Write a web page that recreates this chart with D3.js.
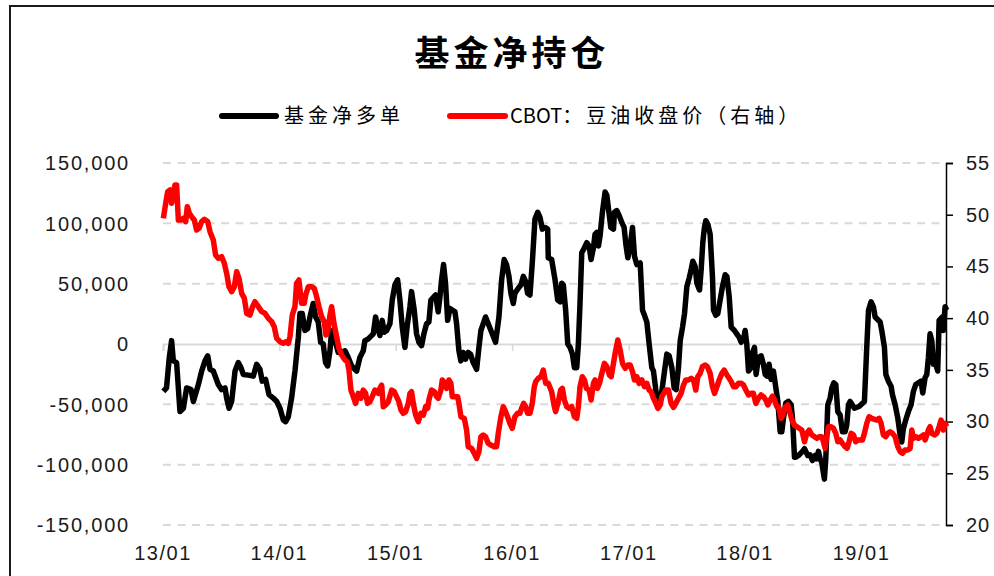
<!DOCTYPE html>
<html>
<head>
<meta charset="utf-8">
<script src="https://cdn.jsdelivr.net/npm/d3@7"></script>
<style>
  body { margin: 0; background: #fff; }
  svg { display: block; }
</style>
</head>
<body>
<svg id="chart"></svg>
<script>
// weekly series: [decimal year, value]
const fundNetLong = [
  [2013.003,-39200],[2013.03,-36400],[2013.054,-11200],[2013.074,2800],[2013.089,-14000],[2013.117,-15400],[2013.146,-56000],[2013.175,-53200],[2013.203,-36400],[2013.241,-37800],[2013.261,-47600],[2013.304,-33600],[2013.332,-22400],[2013.361,-14000],[2013.384,-9800],[2013.404,-21000],[2013.432,-22400],[2013.475,-33600],[2013.504,-37800],[2013.533,-36400],[2013.547,-44800],[2013.567,-53200],[2013.59,-47600],[2013.619,-22400],[2013.647,-15400],[2013.67,-19600],[2013.69,-25200],[2013.733,-25800],[2013.776,-26600],[2013.805,-16800],[2013.833,-21000],[2013.853,-30800],[2013.882,-29400],[2013.911,-42000],[2013.948,-44800],[2013.977,-47600],
  [2014.005,-53200],[2014.034,-63000],[2014.054,-64400],[2014.077,-60200],[2014.105,-44800],[2014.134,-22400],[2014.163,5600],[2014.177,25200],[2014.197,25200],[2014.22,11200],[2014.243,12600],[2014.263,22400],[2014.291,33600],[2014.312,22400],[2014.334,18200],[2014.355,1400],[2014.377,0],[2014.397,-15400],[2014.415,-18200],[2014.435,-5600],[2014.449,11200],[2014.478,2800],[2014.506,-7000],[2014.535,-7000],[2014.564,-5600],[2014.592,-11200],[2014.621,-18200],[2014.664,-22400],[2014.692,-11200],[2014.721,-5600],[2014.735,2800],[2014.764,4200],[2014.807,8400],[2014.827,22400],[2014.844,14000],[2014.864,7000],[2014.884,19600],[2014.901,9800],[2014.922,11200],[2014.95,16800],[2014.97,36400],[2014.993,49000],
  [2015.016,53200],[2015.036,36400],[2015.056,14000],[2015.079,-2800],[2015.099,15400],[2015.122,30800],[2015.136,43400],[2015.159,28000],[2015.179,8400],[2015.199,1400],[2015.222,-1400],[2015.242,8400],[2015.265,16800],[2015.285,18200],[2015.302,36400],[2015.343,40600],[2015.365,26600],[2015.38,39200],[2015.394,53200],[2015.411,65800],[2015.428,50400],[2015.446,19600],[2015.466,29400],[2015.509,26600],[2015.523,16800],[2015.543,-5600],[2015.56,-14000],[2015.58,-7000],[2015.6,-12600],[2015.623,-7000],[2015.643,-8400],[2015.666,-15400],[2015.695,-21000],[2015.715,-2800],[2015.732,11200],[2015.772,22400],[2015.795,16800],[2015.824,9800],[2015.858,1400],[2015.887,22400],[2015.91,53200],[2015.932,70000],[2015.952,65800],[2015.973,56000],[2015.99,42000],
  [2016.01,33600],[2016.024,42000],[2016.053,46200],[2016.076,49000],[2016.096,56000],[2016.116,51800],[2016.133,42000],[2016.153,40600],[2016.173,67200],[2016.196,103600],[2016.219,109200],[2016.239,105000],[2016.259,95200],[2016.282,96600],[2016.305,95200],[2016.31,71400],[2016.339,70000],[2016.368,53200],[2016.391,36400],[2016.411,35000],[2016.425,50400],[2016.439,49000],[2016.459,28000],[2016.477,0],[2016.497,-2800],[2016.517,-8400],[2016.534,-19600],[2016.554,-19600],[2016.568,0],[2016.582,33600],[2016.597,75600],[2016.62,79800],[2016.64,84000],[2016.66,81200],[2016.677,70000],[2016.697,79800],[2016.711,91000],[2016.726,92400],[2016.74,81200],[2016.754,89600],[2016.774,109200],[2016.797,126000],[2016.812,123200],[2016.826,112000],[2016.846,96600],[2016.869,95200],[2016.877,109200],[2016.897,110600],[2016.918,106400],[2016.94,100800],[2016.96,96600],[2016.975,82600],[2016.992,71400],
  [2017.012,81200],[2017.032,96600],[2017.049,72800],[2017.069,65800],[2017.098,67200],[2017.118,28000],[2017.135,23800],[2017.155,18200],[2017.175,0],[2017.198,-19600],[2017.212,-22400],[2017.241,-44800],[2017.261,-47600],[2017.284,-39200],[2017.307,-22400],[2017.327,-8400],[2017.347,-9800],[2017.37,-19600],[2017.39,-36400],[2017.407,-37800],[2017.427,-19600],[2017.442,2800],[2017.462,14000],[2017.479,25200],[2017.499,47600],[2017.519,54600],[2017.536,61600],[2017.55,68600],[2017.57,64400],[2017.585,50400],[2017.608,44800],[2017.622,61600],[2017.636,84000],[2017.65,96600],[2017.662,102200],[2017.679,99400],[2017.699,91000],[2017.719,56000],[2017.728,28000],[2017.748,23800],[2017.765,25200],[2017.785,36400],[2017.805,47600],[2017.828,57400],[2017.843,56000],[2017.863,39200],[2017.88,14000],[2017.908,11200],[2017.928,8400],[2017.948,5600],[2017.966,1400],[2017.986,4200],
  [2018,11200],[2018.014,0],[2018.029,-22400],[2018.052,-19600],[2018.063,-7000],[2018.08,-2800],[2018.094,-25200],[2018.115,-11200],[2018.137,-9800],[2018.157,-16800],[2018.172,-25200],[2018.189,-26600],[2018.206,-16800],[2018.223,-29400],[2018.243,-22400],[2018.264,-36400],[2018.281,-47600],[2018.301,-72800],[2018.315,-72800],[2018.329,-61600],[2018.349,-49000],[2018.372,-47600],[2018.395,-50400],[2018.407,-61600],[2018.424,-93800],[2018.435,-93800],[2018.458,-92400],[2018.487,-89600],[2018.51,-86800],[2018.538,-92400],[2018.558,-91800],[2018.578,-96600],[2018.601,-92400],[2018.616,-95200],[2018.63,-89000],[2018.644,-95200],[2018.658,-98000],[2018.681,-112000],[2018.693,-95200],[2018.71,-50400],[2018.73,-44800],[2018.745,-36400],[2018.762,-32200],[2018.779,-33600],[2018.796,-56000],[2018.816,-58800],[2018.836,-72800],[2018.859,-72800],[2018.873,-67200],[2018.888,-50400],[2018.902,-47600],[2018.939,-53200],[2018.979,-51800],
  [2019.025,-47600],[2019.045,-2800],[2019.06,28000],[2019.082,35000],[2019.102,30800],[2019.117,22400],[2019.16,18200],[2019.174,11200],[2019.197,-2800],[2019.209,-25200],[2019.231,-30800],[2019.254,-35000],[2019.266,-42000],[2019.289,-50400],[2019.312,-61600],[2019.332,-75600],[2019.346,-81200],[2019.36,-70000],[2019.38,-63000],[2019.403,-56000],[2019.426,-50400],[2019.446,-39200],[2019.466,-33600],[2019.512,-30800],[2019.526,-40600],[2019.546,-28000],[2019.561,-25200],[2019.575,-11200],[2019.589,8400],[2019.604,2800],[2019.618,-16800],[2019.638,-16800],[2019.655,-22400],[2019.667,19600],[2019.695,22400],[2019.704,11200],[2019.718,30800],[2019.733,28000]
];

const soyOilClose = [
  [2013.003,49.65],[2013.023,51.1],[2013.04,52.23],[2013.06,52.39],[2013.074,51.1],[2013.089,52.07],[2013.103,52.87],[2013.117,52.87],[2013.132,49.49],[2013.155,49.49],[2013.175,49.65],[2013.195,49.33],[2013.209,50.78],[2013.226,50.13],[2013.246,49.81],[2013.269,49.49],[2013.289,48.52],[2013.309,48.68],[2013.332,49.33],[2013.355,49.55],[2013.384,49.33],[2013.404,48.36],[2013.432,47.56],[2013.452,46.1],[2013.475,45.78],[2013.504,45.94],[2013.527,45.3],[2013.547,44.33],[2013.567,43.04],[2013.59,42.56],[2013.613,43.04],[2013.633,44.49],[2013.653,43.85],[2013.676,42.4],[2013.699,41.91],[2013.719,40.47],[2013.747,40.3],[2013.77,41.11],[2013.79,41.59],[2013.819,41.11],[2013.848,40.63],[2013.876,40.47],[2013.905,39.98],[2013.934,39.66],[2013.956,39.17],[2013.977,38.05],
  [2014.005,37.72],[2014.034,37.56],[2014.054,37.72],[2014.077,37.56],[2014.091,38.21],[2014.111,40.3],[2014.134,41.11],[2014.148,43.37],[2014.168,43.69],[2014.191,41.43],[2014.214,41.43],[2014.226,42.24],[2014.249,43.04],[2014.277,43.04],[2014.3,42.88],[2014.32,42.08],[2014.34,41.11],[2014.363,40.14],[2014.386,39.66],[2014.4,38.37],[2014.415,38.69],[2014.435,40.3],[2014.449,41.11],[2014.469,39.5],[2014.492,38.21],[2014.512,37.08],[2014.535,36.43],[2014.564,35.95],[2014.584,35.79],[2014.598,34.98],[2014.615,33.05],[2014.635,32.41],[2014.655,31.76],[2014.678,32.73],[2014.701,32.25],[2014.721,33.05],[2014.741,32.73],[2014.758,31.76],[2014.778,31.92],[2014.798,32.41],[2014.821,33.05],[2014.85,32.73],[2014.864,33.21],[2014.879,33.53],[2014.893,31.44],[2014.913,31.6],[2014.936,31.92],[2014.965,33.05],[2014.987,32.89],
  [2015.007,32.41],[2015.027,31.92],[2015.045,31.12],[2015.065,30.8],[2015.085,30.96],[2015.108,31.76],[2015.122,32.73],[2015.136,32.89],[2015.151,31.76],[2015.171,30.63],[2015.194,29.99],[2015.216,30.8],[2015.237,30.63],[2015.257,31.44],[2015.274,31.28],[2015.285,32.08],[2015.308,33.05],[2015.331,32.89],[2015.351,32.41],[2015.365,32.25],[2015.388,33.05],[2015.4,34.02],[2015.423,33.7],[2015.437,33.21],[2015.457,34.02],[2015.474,33.7],[2015.486,32.41],[2015.509,32.41],[2015.532,32.41],[2015.543,31.76],[2015.56,30.47],[2015.589,30.31],[2015.609,29.18],[2015.623,27.57],[2015.652,27.41],[2015.675,26.93],[2015.695,26.44],[2015.715,27.09],[2015.732,28.54],[2015.752,28.7],[2015.772,28.54],[2015.795,27.89],[2015.818,27.73],[2015.847,27.57],[2015.867,27.57],[2015.881,28.86],[2015.904,30.47],[2015.924,31.44],[2015.938,31.12],[2015.961,30.47],[2015.981,29.83],
  [2016.001,29.35],[2016.024,30.47],[2016.047,30.8],[2016.067,30.8],[2016.081,31.28],[2016.099,31.76],[2016.116,31.44],[2016.133,30.8],[2016.153,30.8],[2016.173,31.76],[2016.19,33.37],[2016.202,33.86],[2016.224,34.18],[2016.247,34.34],[2016.267,34.98],[2016.288,33.7],[2016.31,33.7],[2016.339,32.89],[2016.362,31.44],[2016.373,30.96],[2016.396,31.92],[2016.416,33.05],[2016.431,33.21],[2016.448,32.08],[2016.468,31.44],[2016.488,31.28],[2016.511,31.44],[2016.534,30.47],[2016.554,30.31],[2016.568,31.44],[2016.582,33.37],[2016.602,34.34],[2016.62,34.02],[2016.637,33.21],[2016.66,33.05],[2016.677,32.08],[2016.697,33.7],[2016.711,34.02],[2016.731,33.21],[2016.749,33.7],[2016.769,34.66],[2016.791,35.63],[2016.812,35.31],[2016.834,34.5],[2016.849,34.34],[2016.869,35.63],[2016.883,36.6],[2016.906,37.89],[2016.926,36.92],[2016.946,35.63],[2016.969,35.15],[2016.992,35.47],
  [2017.012,35.47],[2017.032,34.82],[2017.049,34.02],[2017.069,34.34],[2017.089,33.7],[2017.112,34.02],[2017.135,33.37],[2017.155,33.7],[2017.175,33.05],[2017.192,32.89],[2017.212,32.25],[2017.233,31.76],[2017.25,31.28],[2017.27,31.6],[2017.284,32.41],[2017.301,32.73],[2017.318,33.05],[2017.341,33.05],[2017.364,31.76],[2017.384,31.37],[2017.404,31.76],[2017.427,32.25],[2017.45,32.73],[2017.47,33.53],[2017.49,34.02],[2017.513,34.02],[2017.536,34.18],[2017.556,34.02],[2017.576,33.05],[2017.593,34.34],[2017.613,34.66],[2017.633,35.31],[2017.656,35.47],[2017.676,35.31],[2017.699,34.66],[2017.719,33.37],[2017.737,32.73],[2017.757,33.37],[2017.777,34.02],[2017.8,34.66],[2017.82,34.98],[2017.843,34.5],[2017.863,34.18],[2017.88,33.86],[2017.9,33.37],[2017.92,33.37],[2017.943,33.7],[2017.966,33.7],[2017.986,33.53],
  [2018.006,33.05],[2018.029,32.57],[2018.052,32.73],[2018.071,32.73],[2018.092,31.76],[2018.115,32.25],[2018.137,32.57],[2018.157,32.41],[2018.178,32.08],[2018.195,31.6],[2018.215,32.08],[2018.235,32.47],[2018.252,32.08],[2018.272,31.44],[2018.287,31.44],[2018.31,30.31],[2018.329,30.8],[2018.349,31.44],[2018.366,31.6],[2018.386,30.8],[2018.407,29.99],[2018.424,29.67],[2018.444,29.51],[2018.464,29.35],[2018.487,29.18],[2018.51,28.05],[2018.53,28.86],[2018.55,29.18],[2018.573,28.7],[2018.596,28.54],[2018.616,28.38],[2018.636,28.54],[2018.658,28.54],[2018.673,28.05],[2018.687,27.41],[2018.701,28.54],[2018.716,29.51],[2018.739,29.51],[2018.759,29.35],[2018.779,28.86],[2018.796,28.05],[2018.816,28.22],[2018.836,27.89],[2018.859,27.57],[2018.876,27.41],[2018.893,28.05],[2018.911,28.86],[2018.931,28.7],[2018.951,28.05],[2018.968,28.22],
  [2019.008,28.22],[2019.025,28.86],[2019.045,29.83],[2019.065,30.47],[2019.088,30.31],[2019.131,30.15],[2019.151,30.31],[2019.168,29.83],[2019.188,28.7],[2019.209,28.54],[2019.226,28.86],[2019.246,29.02],[2019.266,28.86],[2019.289,28.54],[2019.312,27.57],[2019.332,27.09],[2019.352,26.93],[2019.374,27.25],[2019.397,27.25],[2019.418,27.41],[2019.432,29.18],[2019.446,28.38],[2019.466,28.54],[2019.489,28.38],[2019.512,28.54],[2019.532,28.7],[2019.546,28.22],[2019.561,28.7],[2019.575,29.18],[2019.589,29.51],[2019.604,28.86],[2019.627,28.7],[2019.647,28.86],[2019.667,29.51],[2019.684,30.15],[2019.704,29.18],[2019.718,29.83],[2019.733,29.51]
];

const leftTicks = [-150000, -100000, -50000, 0, 50000, 100000, 150000];
const rightTicks = [20, 25, 30, 35, 40, 45, 50, 55];
const seriesNames = ['基金净多单', 'CBOT：豆油收盘价（右轴）'];
const title = '基金净持仓';

const width = 994;
const height = 576;
const plot = { left: 163, right: 946, top: 163, bottom: 525 };

// decimal year -> Date
function yearToDate(y) {
  const yr = Math.floor(y);
  const start = new Date(yr, 0, 1);
  const end = new Date(yr + 1, 0, 1);
  return new Date(+start + (y - yr) * (end - start));
}

const svg = d3.select('#chart')
  .attr('width', width)
  .attr('height', height)
  .style('font-family', '"Liberation Sans", Arial, sans-serif');

svg.append('rect')
  .attr('width', width).attr('height', height)
  .attr('fill', '#fff');

// outer frame, runs off the right and bottom edges
svg.append('rect')
  .attr('x', 10).attr('y', 6)
  .attr('width', 1000).attr('height', 620)
  .attr('fill', 'none')
  .attr('stroke', '#1a1a1a')
  .attr('stroke-width', 2);

const x = d3.scaleTime()
  .domain([new Date(2013, 0, 1), new Date(2019, 8, 23)])
  .range([plot.left, plot.right]);

const yLeft = d3.scaleLinear()
  .domain([-150000, 150000])
  .range([plot.bottom, plot.top]);

const yRight = d3.scaleLinear()
  .domain([20, 55])
  .range([plot.bottom, plot.top]);

const fmt = d3.formatLocale({ decimal: '.', thousands: ',', grouping: [3], currency: ['', ''], minus: '-' }).format(',');

// dashed gridlines
svg.append('g')
  .selectAll('line')
  .data(leftTicks.filter(d => d !== 0))
  .join('line')
    .attr('x1', plot.left).attr('x2', plot.right - 3)
    .attr('y1', d => yLeft(d)).attr('y2', d => yLeft(d))
    .attr('stroke', '#d9d9d9')
    .attr('stroke-width', 2)
    .attr('stroke-dasharray', '8,6.5');

// left axis labels (no axis line)
svg.append('g')
  .selectAll('text')
  .data(leftTicks)
  .join('text')
    .attr('x', 130)
    .attr('y', d => yLeft(d))
    .attr('dy', '0.36em')
    .attr('text-anchor', 'end')
    .attr('font-size', 20)
    .attr('letter-spacing', 1.8)
    .attr('fill', '#1a1a1a')
    .text(d => fmt(d));

// x axis sits on the zero line
const xAxis = d3.axisBottom(x)
  .ticks(d3.timeYear.every(1))
  .tickSize(7)
  .tickFormat('');

const gx = svg.append('g')
  .attr('transform', `translate(0,${yLeft(0)})`)
  .call(xAxis);
gx.select('.domain').attr('stroke', '#d9d9d9').attr('stroke-width', 2);
gx.selectAll('.tick line').attr('stroke', '#d9d9d9').attr('stroke-width', 1.5);

// year labels along the bottom
svg.append('g')
  .selectAll('text')
  .data(x.ticks(d3.timeYear.every(1)))
  .join('text')
    .attr('x', d => x(d))
    .attr('y', 560)
    .attr('text-anchor', 'middle')
    .attr('font-size', 20)
    .attr('letter-spacing', 1.5)
    .attr('fill', '#1a1a1a')
    .text(d3.timeFormat('%y/%m'));

// right axis
const gr = svg.append('g')
  .attr('transform', `translate(${plot.right},0)`)
  .call(d3.axisRight(yRight).tickValues(rightTicks).tickSize(7).tickPadding(13));
gr.select('.domain').attr('stroke', '#000').attr('stroke-width', 1.5);
gr.selectAll('.tick line').attr('stroke', '#000').attr('stroke-width', 1.5);
gr.selectAll('.tick text')
  .attr('font-size', 20)
  .attr('letter-spacing', 1)
  .attr('fill', '#1a1a1a')
  .attr('font-family', '"Liberation Sans", Arial, sans-serif');

// lines
const blackLine = d3.line()
  .x(d => x(yearToDate(d[0])))
  .y(d => yLeft(d[1]));

const redLine = d3.line()
  .x(d => x(yearToDate(d[0])))
  .y(d => yRight(d[1]));

svg.append('path')
  .datum(fundNetLong)
  .attr('d', blackLine)
  .attr('fill', 'none')
  .attr('stroke', '#000')
  .attr('stroke-width', 5.5)
  .attr('stroke-linejoin', 'round');

svg.append('path')
  .datum(soyOilClose)
  .attr('d', redLine)
  .attr('fill', 'none')
  .attr('stroke', '#ff0000')
  .attr('stroke-width', 5.5)
  .attr('stroke-linejoin', 'round');

// title
svg.append('text')
  .attr('x', 512)
  .attr('y', 53)
  .attr('dy', '0.36em')
  .attr('text-anchor', 'middle')
  .attr('font-family', '"Noto Sans CJK SC", sans-serif')
  .attr('font-weight', 'bold')
  .attr('font-size', 35)
  .attr('letter-spacing', 4)
  .attr('fill', '#000')
  .text(title);

// legend
const legend = [
  { name: seriesNames[0], color: '#000', x1: 222, x2: 276, tx: 284 },
  { name: seriesNames[1], color: '#ff0000', x1: 450, x2: 505, tx: 510 }
];

const lg = svg.append('g').selectAll('g').data(legend).join('g');
lg.append('line')
  .attr('x1', d => d.x1).attr('x2', d => d.x2)
  .attr('y1', 116).attr('y2', 116)
  .attr('stroke', d => d.color)
  .attr('stroke-width', 6)
  .attr('stroke-linecap', 'round');

const lt = lg.append('text')
  .attr('x', d => d.tx)
  .attr('y', 116)
  .attr('dy', '0.36em')
  .attr('font-family', '"Noto Sans CJK SC", sans-serif')
  .attr('font-size', 20)
  .attr('fill', '#000');

// latin part stays tight, CJK part is spaced out
lt.selectAll('tspan')
  .data(d => {
    const m = d.name.match(/^([A-Za-z]*)(.*)$/);
    return [{ s: m[1], sp: 0 }, { s: m[2], sp: 4 }].filter(p => p.s);
  })
  .join('tspan')
    .attr('letter-spacing', p => p.sp)
    .text(p => p.s);
</script>
</body>
</html>
